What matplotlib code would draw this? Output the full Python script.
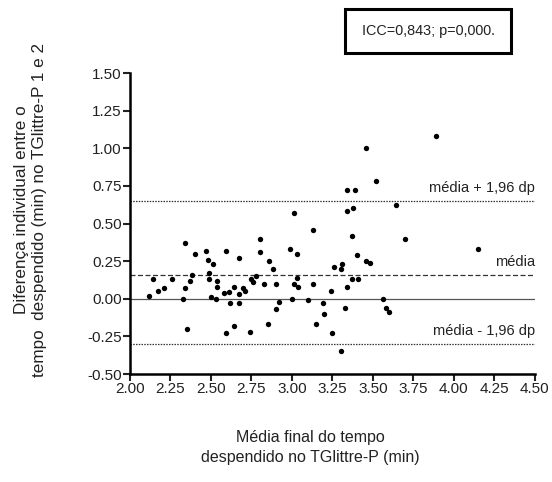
import numpy as np
import matplotlib as mpl
mpl.use('Agg')
import matplotlib.pyplot as plt
from matplotlib.patches import Rectangle

plt.rcParams['font.family'] = ['Liberation Sans', 'DejaVu Sans']

# mean of the two trials (min)
media = [2.12, 2.14, 2.17, 2.21, 2.26, 2.33, 2.34, 2.34, 2.35, 2.37, 2.38, 2.40,
         2.47, 2.48, 2.49, 2.49, 2.51, 2.50, 2.53, 2.54, 2.54, 2.58, 2.59, 2.59,
         2.61, 2.62, 2.64, 2.64, 2.67, 2.67, 2.67, 2.70, 2.71, 2.74, 2.75, 2.76,
         2.78, 2.80, 2.80, 2.83, 2.85, 2.86, 2.88, 2.90, 2.90, 2.92,
         2.99, 3.01, 3.03, 3.01, 3.03, 3.04, 3.00, 3.10, 3.13, 3.13, 3.15, 3.19,
         3.20, 3.24, 3.25, 3.26, 3.30, 3.31, 3.30, 3.33, 3.34, 3.34, 3.34, 3.37,
         3.37, 3.38, 3.39, 3.40, 3.41, 3.46, 3.46, 3.48, 3.52, 3.56, 3.58, 3.60,
         3.64, 3.70, 3.89, 4.15]
# difference between trial 1 and 2 (min)
diferenca = [0.02, 0.13, 0.05, 0.07, 0.13, 0.00, 0.37, 0.07, -0.20, 0.12, 0.16, 0.30,
             0.32, 0.26, 0.17, 0.13, 0.23, 0.01, 0.00, 0.12, 0.08, 0.04, 0.32, -0.23,
             0.045, -0.03, 0.08, -0.18, 0.27, 0.03, -0.03, 0.07, 0.05, -0.22, 0.13, 0.11,
             0.15, 0.40, 0.31, 0.10, -0.17, 0.25, 0.20, 0.10, -0.07, -0.02,
             0.33, 0.57, 0.30, 0.10, 0.14, 0.08, 0.00, -0.01, 0.46, 0.10, -0.17, -0.03,
             -0.10, 0.05, -0.23, 0.21, 0.20, 0.23, -0.35, -0.06, 0.08, 0.58, 0.72, 0.13,
             0.42, 0.60, 0.72, 0.29, 0.13, 1.00, 0.25, 0.24, 0.78, 0.00, -0.06, -0.09,
             0.62, 0.40, 1.08, 0.33]

vies = 0.158
lim_sup = 0.649
lim_inf = -0.302

W, H = 552, 482
fig = plt.figure(figsize=(W / 100, H / 100), dpi=100)
ax = fig.add_axes([0.2355, 0.224, 0.7335, 0.6245])

ax.scatter(media, diferenca, s=15, color='black', zorder=3, linewidths=0)
ax.axhline(0, color='#555555', lw=0.9)
ax.axhline(vies, color='#333333', lw=0.9, ls=(0, (4, 2)))
ax.axhline(lim_sup, color='#333333', lw=0.9, ls=(0, (1.2, 1)))
ax.axhline(lim_inf, color='#333333', lw=0.9, ls=(0, (1.2, 1)))

ax.text(4.5, lim_sup + 0.04, "média + 1,96 dp", ha='right', va='bottom', fontsize=10.5, color='#222222')
ax.text(4.5, vies + 0.04, "média", ha='right', va='bottom', fontsize=10.5, color='#222222')
ax.text(4.5, lim_inf + 0.04, "média - 1,96 dp", ha='right', va='bottom', fontsize=10.5, color='#222222')

ax.set_xlim(2.0, 4.5)
ax.set_ylim(-0.5, 1.5)
xt = np.arange(2.0, 4.51, 0.25)
yt = np.arange(-0.5, 1.51, 0.25)
ax.set_xticks(xt)
ax.set_yticks(yt)
ax.set_xticklabels(["%.2f" % v for v in xt])
ax.set_yticklabels(["%.2f" % v for v in yt])
ax.tick_params(labelsize=11, width=1.5, length=5, direction='out', pad=1, colors='#222222')
for s in ['top', 'right']:
    ax.spines[s].set_visible(False)
for s in ['left', 'bottom']:
    ax.spines[s].set_linewidth(1.8)

fig.text(0.563, 0.072, "Média final do tempo\ndespendido no TGlittre-P (min)",
         ha='center', va='center', fontsize=11.5, color='#222222', linespacing=1.45)
fig.text(0.055, 0.565, "Diferença individual entre o\ntempo  despendido (min) no TGlittre-P 1 e 2",
         ha='center', va='center', rotation=90, fontsize=12.3, color='#222222', linespacing=1.3)

# ICC box
fig.patches.append(Rectangle((345 / W, 1 - 53 / H), 166 / W, 44 / H, transform=fig.transFigure,
                             fill=False, ec='black', lw=2.2))
fig.text(428 / W, 1 - 31 / H, "ICC=0,843; p=0,000.", ha='center', va='center', fontsize=10.4,
         color='#222222')

fig.savefig("out.png", dpi=100)
